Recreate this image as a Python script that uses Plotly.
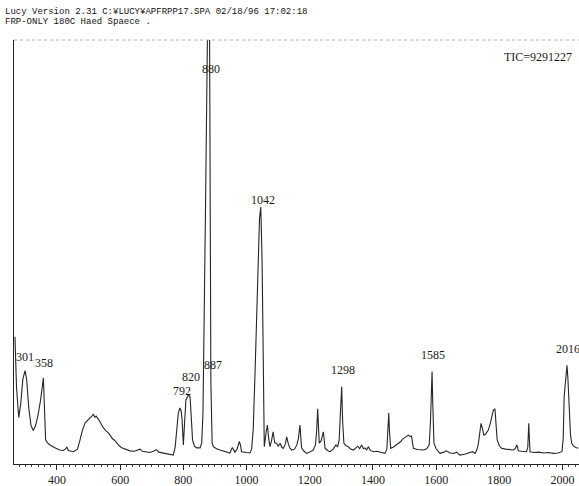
import plotly.graph_objects as go

# Chromatogram trace (retention value, abundance %)
x_vals = [267, 272, 279, 285, 292, 299, 304, 311, 318, 325, 332, 340, 348, 354, 357, 360, 364, 370, 378, 395,
          409, 420, 428, 431, 436, 452, 465, 473, 480, 489, 496, 504, 510, 515, 520, 524, 531, 538, 547, 555,
          562, 568, 575, 582, 589, 597, 605, 618, 631, 645, 655, 663, 670, 681, 694, 705, 715, 722, 735, 747,
          758, 768, 774, 779, 784, 789, 793, 796, 800, 804, 808, 816, 821, 825, 829, 835, 842, 853, 858, 862,
          866, 870, 876, 881, 883, 885, 886, 887, 889, 891, 895, 905, 916, 935, 947, 955, 963, 970, 977, 981,
          984, 1000, 1011, 1016, 1021, 1027, 1032, 1037, 1041, 1045, 1049, 1052, 1054, 1056, 1062, 1066, 1070, 1074, 1079, 1084,
          1089, 1095, 1100, 1106, 1111, 1116, 1122, 1127, 1132, 1137, 1143, 1152, 1159, 1164, 1169, 1172, 1174, 1182, 1190, 1200,
          1211, 1218, 1222, 1225, 1228, 1230, 1236, 1240, 1243, 1246, 1248, 1256, 1264, 1274, 1283, 1288, 1293, 1297, 1301, 1304,
          1308, 1315, 1322, 1328, 1338, 1346, 1352, 1358, 1364, 1370, 1375, 1380, 1385, 1392, 1401, 1412, 1425, 1438, 1444, 1448,
          1450, 1452, 1456, 1465, 1475, 1482, 1488, 1493, 1498, 1505, 1512, 1517, 1522, 1525, 1528, 1540, 1559, 1570, 1578, 1582,
          1585, 1587, 1589, 1593, 1600, 1612, 1625, 1632, 1644, 1655, 1665, 1675, 1690, 1705, 1715, 1723, 1728, 1733, 1738, 1742,
          1746, 1751, 1756, 1760, 1765, 1771, 1776, 1781, 1786, 1790, 1793, 1800, 1807, 1820, 1835, 1844, 1850, 1855, 1858, 1860,
          1870, 1880, 1886, 1890, 1893, 1895, 1897, 1910, 1925, 1940, 1955, 1971, 1985, 1998, 2002, 2005, 2010, 2014, 2017, 2021,
          2025, 2029, 2035, 2042, 2050]
y_vals = [30, 18, 11, 14, 20, 22, 20, 13, 9, 7.9, 9, 11.5, 15, 19, 20.3, 14, 5.7, 5, 4.5, 3.8,
          3.3, 3.2, 3.6, 4.0, 3.2, 2.9, 3.5, 5.7, 7.8, 9.7, 10.3, 10.8, 11.2, 11.8, 11, 11.3, 10.6, 9.6, 8.5, 7.8,
          7.4, 6.8, 6.0, 5.6, 4.9, 4.3, 3.8, 3.4, 3.1, 3.0, 3.2, 3.5, 3.0, 2.9, 2.7, 3.0, 3.4, 2.8, 2.6, 2.4,
          2.3, 2.1, 4, 8, 12, 13.2, 12.5, 10.4, 4.5, 10, 15.1, 16.3, 15.9, 11, 5.7, 4.2, 3.8, 3.8, 5, 12,
          31, 60, 100, 140, 100, 40, 25, 19.6, 12, 5, 4.1, 3.6, 3.3, 2.9, 2.6, 3.9, 2.8, 3.5, 5.3, 4.4,
          2.9, 2.7, 2.6, 3.5, 8, 22, 35.6, 50, 58, 60.6, 48, 30, 12, 4.1, 7.5, 9.2, 6, 4.1, 5.5, 7.6,
          5, 4.9, 4.2, 4.9, 4.0, 3.7, 4.5, 6.4, 4.8, 3.8, 3.3, 3.5, 4.5, 6, 9.2, 6, 3.8, 3.0, 2.5, 2.8,
          3.3, 4.5, 8, 13, 8, 4.9, 5.5, 6.5, 7.6, 5.5, 3.8, 3.2, 2.9, 3.5, 4.5, 4.0, 5.7, 12, 18.2, 10,
          4.9, 4.3, 4.1, 3.6, 3.3, 3.8, 4.2, 3.6, 4.5, 3.6, 3.8, 3.3, 4.1, 3.2, 2.9, 3.0, 2.7, 2.5, 3.5, 8,
          12, 8, 3.7, 4.0, 4.5, 5.0, 5.3, 5.8, 6.1, 6.3, 6.8, 6.5, 6.6, 5, 3.7, 3.4, 3.3, 3.6, 4.5, 10,
          18, 21.8, 15, 4.9, 3.6, 2.5, 2.8, 3.1, 2.6, 2.5, 2.8, 2.1, 2.3, 2.6, 2.9, 2.5, 3.2, 4.5, 7.5, 9.6,
          8.5, 6.8, 7, 7.5, 8, 9.5, 11, 12.7, 13, 9, 5.7, 4.3, 3.7, 3.5, 3.4, 3.3, 3.6, 4.5, 3.8, 3.1,
          3.0, 2.9, 2.9, 4, 9.6, 6, 2.9, 2.7, 2.8, 2.6, 2.7, 2.5, 2.6, 2.9, 6, 15.9, 21, 23.3, 20, 12,
          7, 4.9, 4.2, 3.9, 3.7]

# Peak labels: text, label x, label y
peak_text = ["301", "358", "792", "820", "880", "887", "1042", "1298", "1585", "2016"]
peak_x = [300, 359, 796, 825, 887, 893, 1052, 1306, 1591, 2017]
peak_y = [25.3, 23.8, 17.2, 20.6, 93.2, 23.3, 62.3, 22.2, 25.7, 27.1]

tick_vals = [400, 600, 800, 1000, 1200, 1400, 1600, 1800, 2000]
tick_text = [str(v) for v in tick_vals]

header_lines = ["Lucy Version 2.31 C:¥LUCY¥APFRPP17.SPA 02/18/96 17:02:18",
                "FRP-ONLY 180C Haed Spaece ."]
tic_text = "TIC=9291227"

fig = go.Figure()
fig.add_trace(go.Scatter(x=x_vals, y=y_vals, mode="lines",
                         line=dict(color="#262626", width=1.1), showlegend=False,
                         hoverinfo="skip"))

annotations = []
for t, px, py in zip(peak_text, peak_x, peak_y):
    annotations.append(dict(x=px, y=py, xref="x", yref="y", text=t, showarrow=False,
                            font=dict(family="Liberation Serif", size=12, color="#1a1a1a"),
                            xanchor="center", yanchor="middle"))
annotations.append(dict(x=1922, y=96, xref="x", yref="y", text=tic_text, showarrow=False,
                        font=dict(family="Liberation Serif", size=12, color="#1a1a1a"),
                        xanchor="center", yanchor="middle"))
for i, line in enumerate(header_lines):
    annotations.append(dict(x=-0.02, y=1.066 - 0.0236 * i, xref="paper", yref="paper", text=line,
                            showarrow=False, xanchor="left", yanchor="middle",
                            font=dict(family="Liberation Mono", size=9, color="#111")))

fig.update_layout(
    width=579, height=486,
    margin=dict(l=14, r=0, t=40, b=22),
    paper_bgcolor="white", plot_bgcolor="white",
    annotations=annotations,
    shapes=[dict(type="line", xref="paper", yref="paper", x0=0, x1=1, y0=1, y1=1,
                 line=dict(color="#aaaaaa", width=1, dash="dot"))],
    xaxis=dict(range=[264, 2052], showline=True, linecolor="#222", linewidth=1,
               showgrid=False, zeroline=False, ticks="outside", ticklen=5, tickcolor="#222",
               tickvals=tick_vals, ticktext=tick_text,
               minor=dict(dtick=20, tick0=0, ticks="outside", ticklen=2, tickcolor="#444"),
               tickfont=dict(family="Liberation Serif", size=12, color="#1a1a1a")),
    yaxis=dict(range=[0, 100], showline=True, linecolor="#222", linewidth=1,
               showgrid=False, zeroline=False, showticklabels=False, ticks=""),
)

fig.write_html("out.html")
